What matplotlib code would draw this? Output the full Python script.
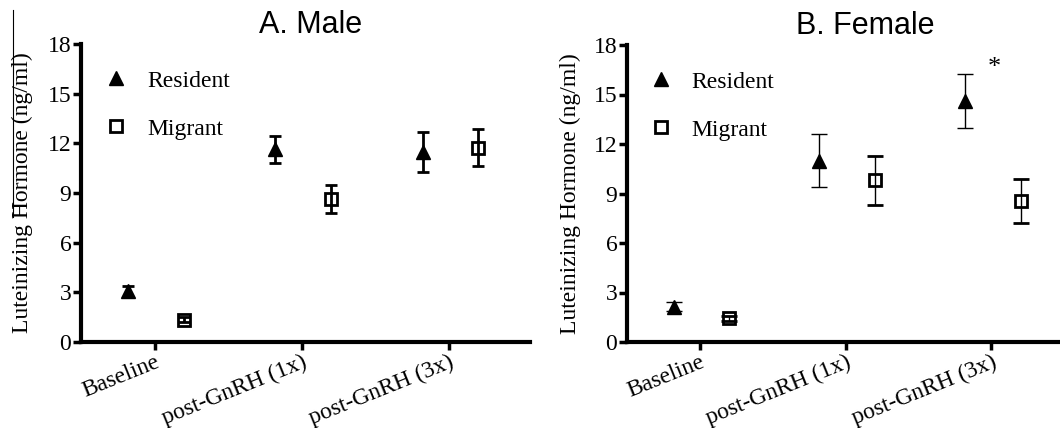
import numpy as np
import matplotlib
matplotlib.use("Agg")
import matplotlib.pyplot as plt
from matplotlib.lines import Line2D

# values (ng/ml), mean and error
groups = ["Baseline", "post-GnRH (1x)", "post-GnRH (3x)"]

male_resident = [3.07, 11.63, 11.47]
male_resident_err = [0.33, 0.80, 1.19]
male_migrant = [1.33, 8.64, 11.74]
male_migrant_err = [0.15, 0.83, 1.13]

female_resident = [2.15, 11.0, 14.62]
female_resident_err = [0.30, 1.60, 1.64]
female_migrant = [1.45, 9.80, 8.54]
female_migrant_err = [0.15, 1.50, 1.31]

yticks = [0, 3, 6, 9, 12, 15, 18]

SERIF = "Liberation Serif"
SANS = "Liberation Sans"
TICK_FS = 17


def drawPanel(ax, res, res_err, mig, mig_err, title, title_x, ebw, cap, xmax, leg_x):
    x = np.arange(len(groups))
    ax.errorbar(x - 0.18, res, yerr=res_err, fmt="^", color="k", ms=10,
                elinewidth=ebw, capsize=cap, capthick=ebw, zorder=3)
    ax.errorbar(x + 0.2, mig, yerr=mig_err, fmt="s", color="k", mfc="none",
                mew=2, ms=8.5, elinewidth=ebw, capsize=cap, capthick=ebw, zorder=3)
    ax.set_xlim(-0.5, xmax)
    ax.set_ylim(0, 18)
    ax.set_yticks(yticks)
    ax.set_xticks(x)
    ax.set_xticklabels(groups, rotation=22, ha="right", rotation_mode="anchor",
                       fontfamily=SERIF, fontsize=TICK_FS)
    for lab in ax.get_yticklabels():
        lab.set_fontfamily(SERIF)
        lab.set_fontsize(TICK_FS)
    for s in ["top", "right"]:
        ax.spines[s].set_visible(False)
    for s in ["left", "bottom"]:
        ax.spines[s].set_linewidth(3)
    ax.tick_params(axis="both", width=2.5, length=6, pad=1)
    ax.set_ylabel("Luteinizing Hormone (ng/ml)", fontfamily=SERIF, fontsize=TICK_FS)
    ax.yaxis.set_label_coords(-0.106, 0.5)
    ax.text(title_x, 1.037, title, transform=ax.transAxes, ha="center", va="baseline",
            fontfamily=SANS, fontsize=22)
    handles = [Line2D([], [], ls="none", marker="^", color="k", ms=10),
               Line2D([], [], ls="none", marker="s", color="k", mfc="none", mew=2, ms=8.5)]
    ax.legend(handles, ["Resident", "Migrant"], loc="upper left",
              bbox_to_anchor=(leg_x, 0.912), frameon=False, borderpad=0,
              borderaxespad=0, handlelength=0.9, handletextpad=0.87,
              labelspacing=1.12, prop={"family": SERIF, "size": TICK_FS})


fig = plt.figure(figsize=(10.6, 4.28), dpi=100)
axA = fig.add_axes([81 / 1060, 1 - 342 / 428, 449 / 1060, 298 / 428])
axB = fig.add_axes([627 / 1060, 1 - 342 / 428, 433 / 1060, 297 / 428])

drawPanel(axA, male_resident, male_resident_err, male_migrant, male_migrant_err,
          "A. Male", 0.512, 2.0, 4, 2.55, 0.055)
drawPanel(axB, female_resident, female_resident_err, female_migrant, female_migrant_err,
          "B. Female", 0.55, 1.0, 6, 2.47, 0.053)

# significance mark
axB.text(2.02, 16.6, "*", ha="center", va="center", fontfamily=SERIF, fontsize=19)

# stray line at the top left of the original scan
fig.add_artist(Line2D([12.5 / 1060, 12.5 / 1060], [1 - 10 / 428, 1 - 217 / 428],
                      color="k", lw=0.8))

fig.savefig("out.png", dpi=100)
